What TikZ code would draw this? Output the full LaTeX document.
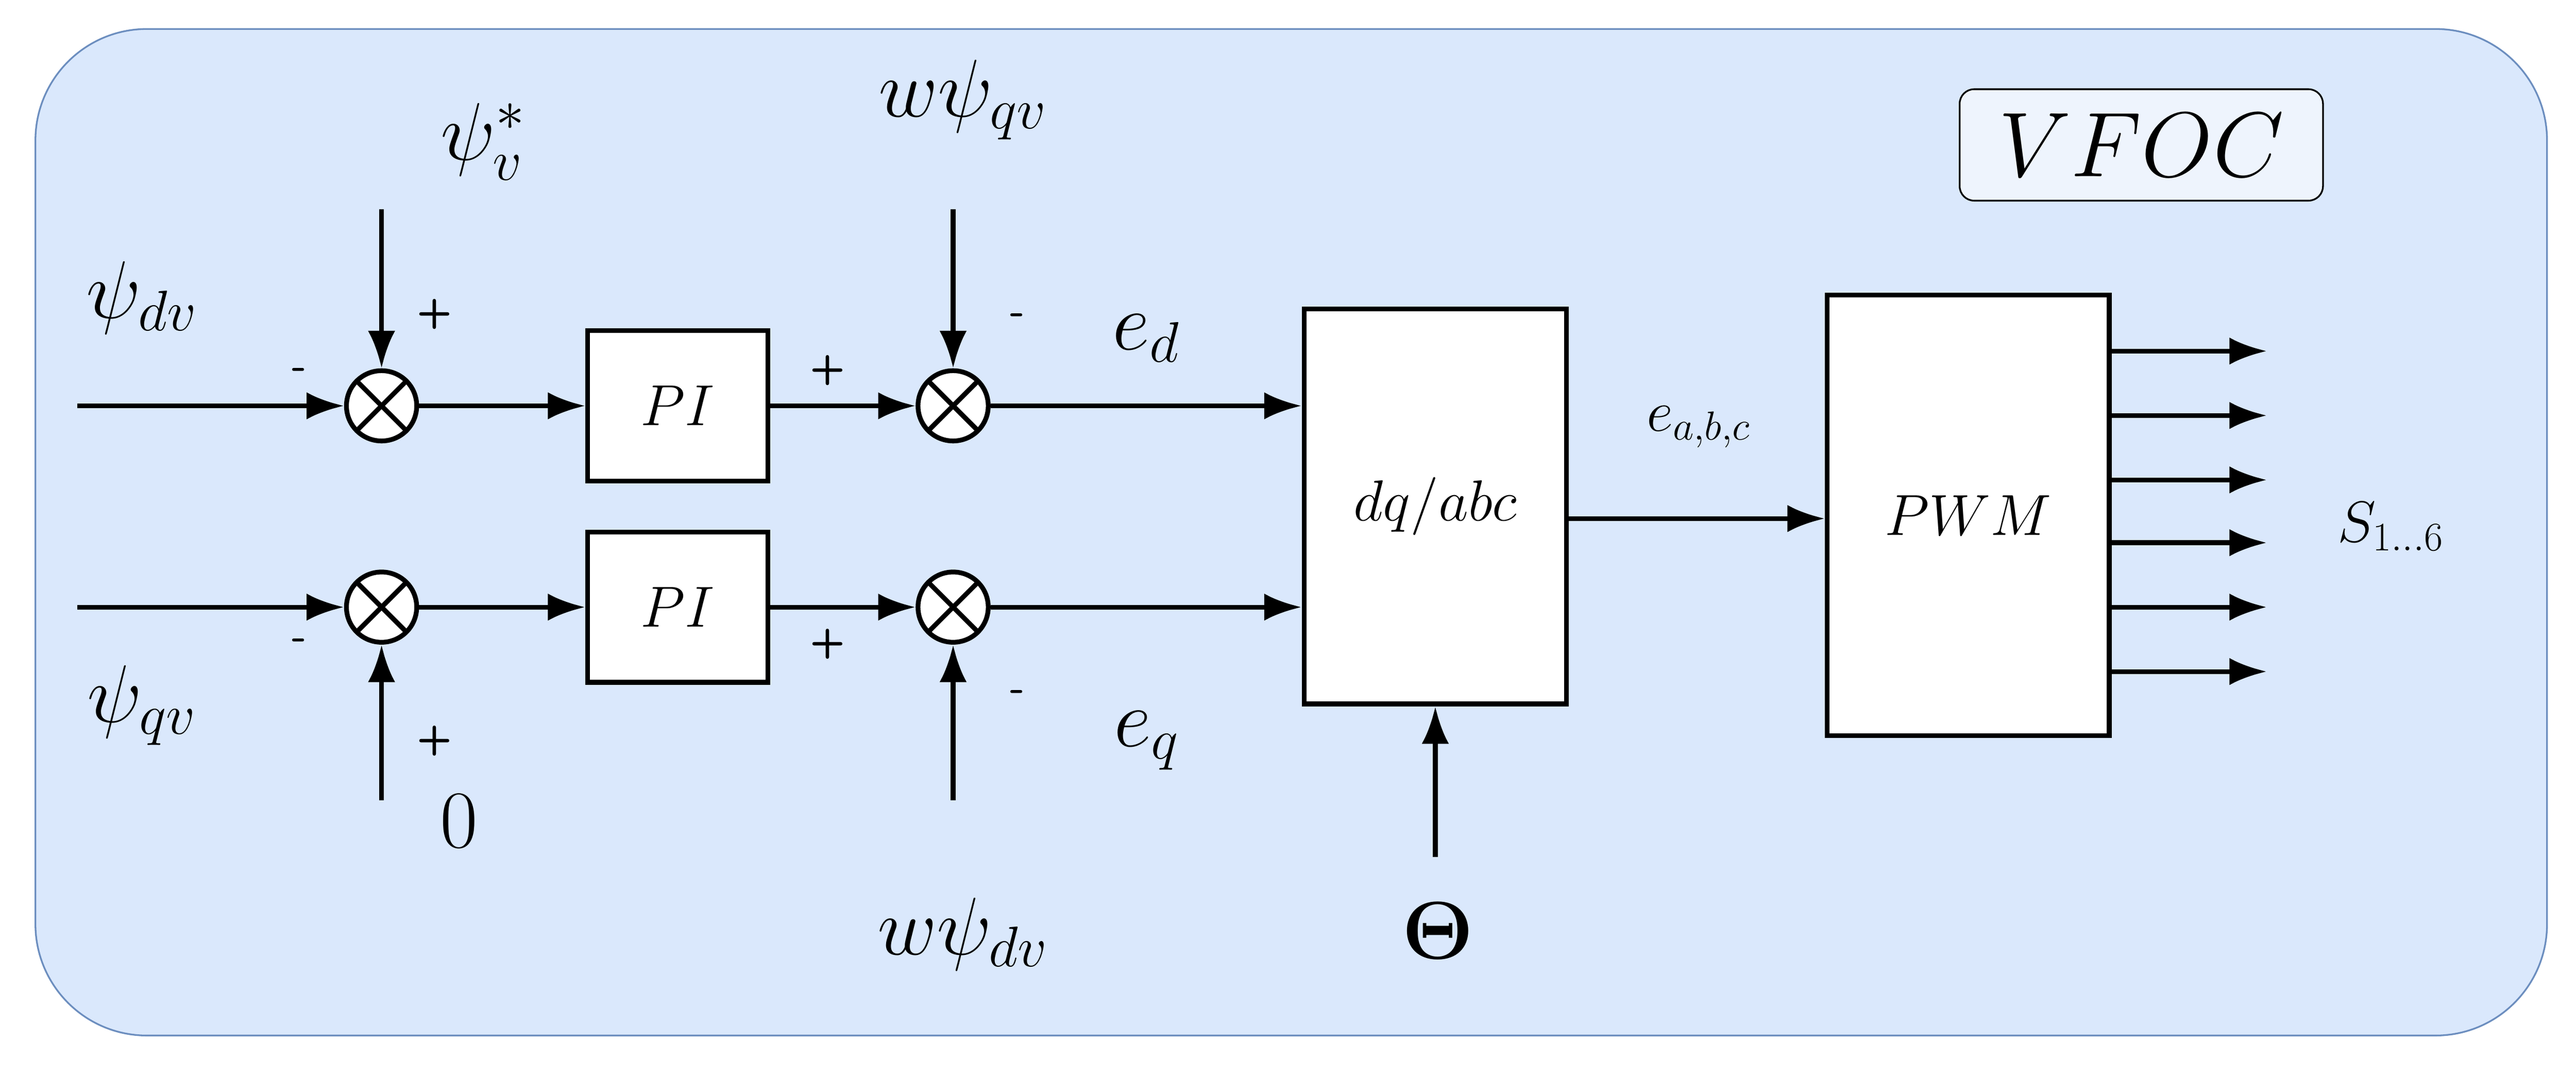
\RequirePackage{fix-cm}
\documentclass[tikz,border=0pt]{standalone}
\usetikzlibrary{arrows.meta}
\definecolor{bgfill}{RGB}{218,232,252}
\definecolor{bgline}{RGB}{108,142,191}
\definecolor{tagfill}{RGB}{238,244,253}
\begin{document}
\begin{tikzpicture}[x=0.03324cm,y=-0.03324cm,
  ln/.style={line width=2.8pt},
  ar/.style={ln,-{Latex[length=22pt,width=16pt]}},
  blk/.style={draw,line width=2.8pt,fill=white,inner sep=0pt},
  sum/.style={draw,circle,line width=2.8pt,fill=white,minimum size=1.45cm,inner sep=0pt},
  big/.style={font=\fontsize{48}{56}\selectfont},
  mid/.style={font=\fontsize{34}{40}\selectfont},
  sg/.style={font=\sffamily\bfseries\fontsize{24}{28}\selectfont}]
\useasboundingbox (0,0) rectangle (1600,678);
\draw[bgline,fill=bgfill,line width=1pt,rounded corners=2.3cm] (22,18) rectangle (1582,643);
\node[draw,rounded corners=0.3cm,fill=tagfill,line width=1pt,minimum width=7.5cm,minimum height=2.3cm,font=\fontsize{54}{60}\selectfont] (tag) at (1330,90) {$VFOC$};
% sums
\foreach \n/\x/\y in {s1/237/252,s2/592/252,s3/237/377,s4/592/377}{
  \node[sum] (\n) at (\x,\y) {};
  \draw[ln] ([shift={(45:0.725cm)}]\n.center) -- ([shift={(225:0.725cm)}]\n.center);
  \draw[ln] ([shift={(135:0.725cm)}]\n.center) -- ([shift={(-45:0.725cm)}]\n.center);
}
\node[blk,minimum width=3.72cm,minimum height=3.1cm,mid] (pi1) at (421,252) {$PI$};
\node[blk,minimum width=3.72cm,minimum height=3.1cm,mid] (pi2) at (421,377) {$PI$};
\node[blk,minimum width=5.42cm,minimum height=8.15cm,mid] (dq) at (891.5,314.5) {$dq/abc$};
\node[blk,minimum width=5.82cm,minimum height=9.1cm,mid] (pwm) at (1222.5,320) {$PWM$};
% inputs
\coordinate (i1) at (48,252); \coordinate (i3) at (48,377);
\coordinate (t1) at (237,130); \coordinate (b3) at (237,497);
\coordinate (t2) at (592,130); \coordinate (b4) at (592,497);
\coordinate (th) at (891.5,532);
\draw[ar] (i1) -- (s1); \draw[ar] (i3) -- (s3);
\draw[ar] (t1) -- (s1); \draw[ar] (b3) -- (s3);
\draw[ar] (t2) -- (s2); \draw[ar] (b4) -- (s4);
\draw[ar] (s1) -- (pi1); \draw[ar] (s3) -- (pi2);
\draw[ar] (pi1) -- (s2); \draw[ar] (pi2) -- (s4);
\draw[ar] (s2) -- (s2 -| dq.west); \draw[ar] (s4) -- (s4 -| dq.west);
\draw[ar] (th) -- (dq.south);
\draw[ar] (dq.east |- 0,322) -- (pwm.west |- 0,322);
\foreach \y [count=\i] in {218,258,298,337,377,417}{
  \coordinate (o\i) at (1408,\y);
  \draw[ar] (pwm.east |- o\i) -- (o\i);
}
% labels
\node[big] (l1) at (88,185) {$\psi_{dv}$};
\node[big] (l2) at (300,88) {$\psi_v^*$};
\node[big] (l3) at (598,62) {$w\psi_{qv}$};
\node[big] (l4) at (88,438) {$\psi_{qv}$};
\node[big] (l5) at (285,510) {$0$};
\node[big] (l6) at (598,580) {$w\psi_{dv}$};
\node[big] (l7) at (893,578) {$\mathbf{\Theta}$};
\node[big] (l8) at (712,210) {$e_d$};
\node[big] (l9) at (712,460) {$e_q$};
\node[mid] (l10) at (1055,265) {$e_{a,b,c}$};
\node[mid] (l11) at (1485,327) {$S_{1\ldots6}$};
\node[sg] (g1) at (186,232) {-};
\node[sg] (g2) at (270,195) {+};
\node[sg] (g3) at (514,230) {+};
\node[sg] (g4) at (632,198) {-};
\node[sg] (g5) at (186,400) {-};
\node[sg] (g6) at (270,460) {+};
\node[sg] (g7) at (514,400) {+};
\node[sg] (g8) at (632,432) {-};
\end{tikzpicture}
\end{document}
